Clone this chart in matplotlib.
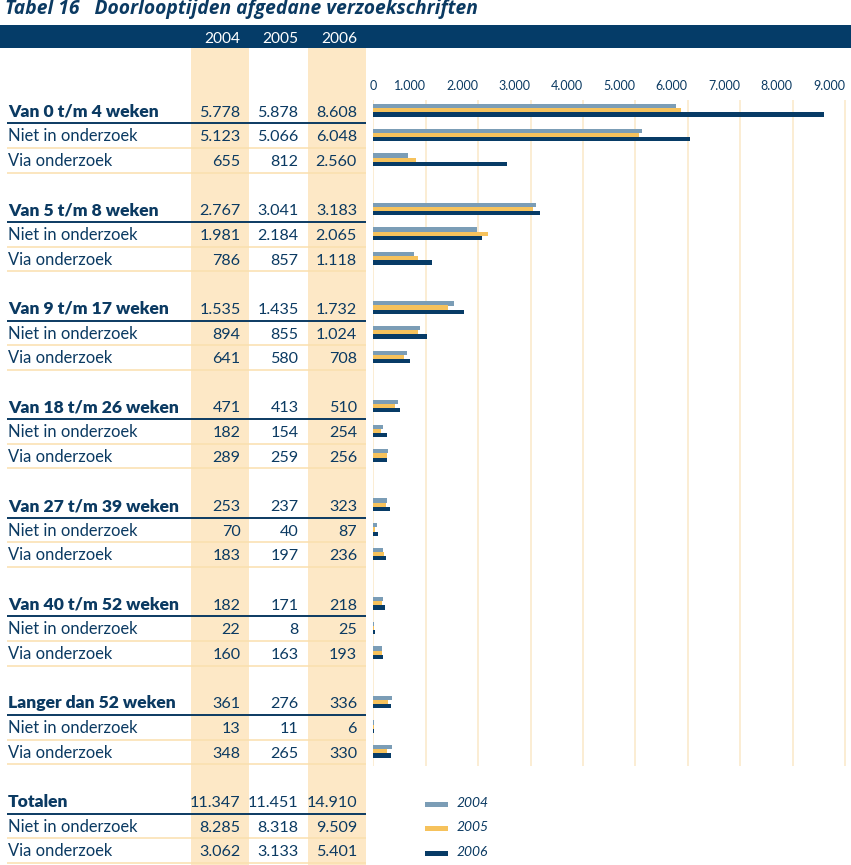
"""Tabel 16: doorlooptijden afgedane verzoekschriften (table with bar chart)."""

import matplotlib

matplotlib.use("Agg")
import matplotlib.pyplot as plt  # noqa: E402
from matplotlib.patches import Rectangle  # noqa: E402

plt.rcParams["font.family"] = ["Lato", "DejaVu Sans"]

# --- data -----------------------------------------------------------------
years = ["2004", "2005", "2006"]
row_labels = [
    "Van 0 t/m 4 weken", "Niet in onderzoek", "Via onderzoek",
    "Van 5 t/m 8 weken", "Niet in onderzoek", "Via onderzoek",
    "Van 9 t/m 17 weken", "Niet in onderzoek", "Via onderzoek",
    "Van 18 t/m 26 weken", "Niet in onderzoek", "Via onderzoek",
    "Van 27 t/m 39 weken", "Niet in onderzoek", "Via onderzoek",
    "Van 40 t/m 52 weken", "Niet in onderzoek", "Via onderzoek",
    "Langer dan 52 weken", "Niet in onderzoek", "Via onderzoek",
    "Totalen", "Niet in onderzoek", "Via onderzoek",
]
vals_2004 = [5778, 5123, 655, 2767, 1981, 786, 1535, 894, 641, 471, 182, 289,
             253, 70, 183, 182, 22, 160, 361, 13, 348, 11347, 8285, 3062]
vals_2005 = [5878, 5066, 812, 3041, 2184, 857, 1435, 855, 580, 413, 154, 259,
             237, 40, 197, 171, 8, 163, 276, 11, 265, 11451, 8318, 3133]
vals_2006 = [8608, 6048, 2560, 3183, 2065, 1118, 1732, 1024, 708, 510, 254, 256,
             323, 87, 236, 218, 25, 193, 336, 6, 330, 14910, 9509, 5401]
# bar lengths as drawn in the chart (the 2004 bar for 5-8 weken is drawn longer)
bars_2004 = [5778, 5123, 655, 3100, 1981, 786, 1535, 894, 641, 471, 182, 289,
             253, 70, 183, 182, 22, 160, 361, 13, 348]
bars_2005 = vals_2005[:21]
bars_2006 = vals_2006[:21]
axis_ticks = [0, 1000, 2000, 3000, 4000, 5000, 6000, 7000, 8000, 9000]

# --- style ----------------------------------------------------------------
NAVY = "#0b3a62"
HEAD = "#053c68"
C2004 = "#7b9db6"
C2005 = "#f6c25c"
C2006 = "#073b66"
SHADE = "#fde8c6"
LINE_OR = "#fadfae"
GRID = "#fbe8c8"

W, H = 851, 865
ROW0, PITCH = 111.0, 24.65


def nl(v):
    return f"{v:,}".replace(",", ".")


def row_pos(i):
    """table row index -> slot (with an empty slot after every 3 rows)."""
    return i + i // 3


fig = plt.figure(figsize=(W / 100, H / 100), dpi=100)
ax = fig.add_axes([0, 0, 1, 1])
ax.set_xlim(0, W)
ax.set_ylim(H, 0)
ax.axis("off")

# shaded year columns and header bar
for x0, x1 in ((190.5, 248.5), (307.5, 365.5)):
    ax.add_patch(Rectangle((x0, 47), x1 - x0, H - 47, color=SHADE, lw=0, zorder=0))
ax.add_patch(Rectangle((0, 24.5), W, 23.5, color=HEAD, lw=0, zorder=1))

ax.text(5, 14, "Tabel 16   Doorlooptijden afgedane verzoekschriften", color=NAVY,
        fontsize=13.9, fontweight="bold", fontstyle="italic", va="baseline", ha="left",
        family=["Open Sans", "DejaVu Sans"])

col_right = [240.5, 298.5, 357]
for x, yr in zip(col_right, years):
    ax.text(x, 43.3, yr, color="white", fontsize=11.2, ha="right", va="baseline")

for i, lab in enumerate(row_labels):
    y = ROW0 + PITCH * row_pos(i)
    head = i % 3 == 0
    ax.text(8, y + 5.7, lab, color=NAVY, fontsize=12.6 if head else 11.9,
            va="baseline", ha="left", fontweight="heavy" if head else "normal")
    for x, vals in zip(col_right, (vals_2004, vals_2005, vals_2006)):
        ax.text(x, y + 5.7, nl(vals[i]), color=NAVY, fontsize=11.6,
                va="baseline", ha="right")
    ly = y + PITCH * 0.5
    ax.plot([7, 365.5], [ly, ly], color=NAVY if head else LINE_OR,
            lw=1.4 if head else 1.1, solid_capstyle="butt", zorder=2)

# legend
for k, (yr, c) in enumerate(zip(years, (C2004, C2005, C2006))):
    y = ROW0 + PITCH * (28 + k)
    ax.add_patch(Rectangle((425, y + 0.5), 23, 5, color=c, lw=0))
    ax.text(457, y + 5.5, yr, color=NAVY, fontsize=10, fontstyle="italic",
            va="baseline", ha="left")

# --- bar chart ------------------------------------------------------------
x0px, ytop, ybot = 373.3, 100, 766
px_per_unit = 52.4 / 1000
bx = fig.add_axes([x0px / W, (H - ybot) / H, (W - x0px) / W, (ybot - ytop) / H])
bx.set_xlim(0, (W - x0px) / px_per_unit)
bx.set_ylim((ybot - ROW0) / PITCH, (ytop - ROW0) / PITCH)
bx.patch.set_alpha(0)
for s in bx.spines.values():
    s.set_visible(False)

slots = [row_pos(i) for i in range(len(bars_2004))]
hgt = 0.172
for off, vals, c in ((-0.195, bars_2004, C2004), (-0.025, bars_2005, C2005),
                     (0.145, bars_2006, C2006)):
    bx.barh([s + off for s in slots], vals, height=hgt, color=c, lw=0, zorder=3)

bx.set_xticks(axis_ticks)
bx.set_xticklabels([nl(t) for t in axis_ticks], color=NAVY, fontsize=9)
bx.set_yticks([])
bx.xaxis.tick_top()
bx.tick_params(axis="x", length=0, pad=6)
for j, lab in enumerate(bx.get_xticklabels()):
    lab.set_ha("center" if j == 0 else "right")
bx.grid(axis="x", color=GRID, lw=1.1, zorder=0)
bx.set_axisbelow(True)

fig.savefig("out.png", dpi=100)
plt.close(fig)
